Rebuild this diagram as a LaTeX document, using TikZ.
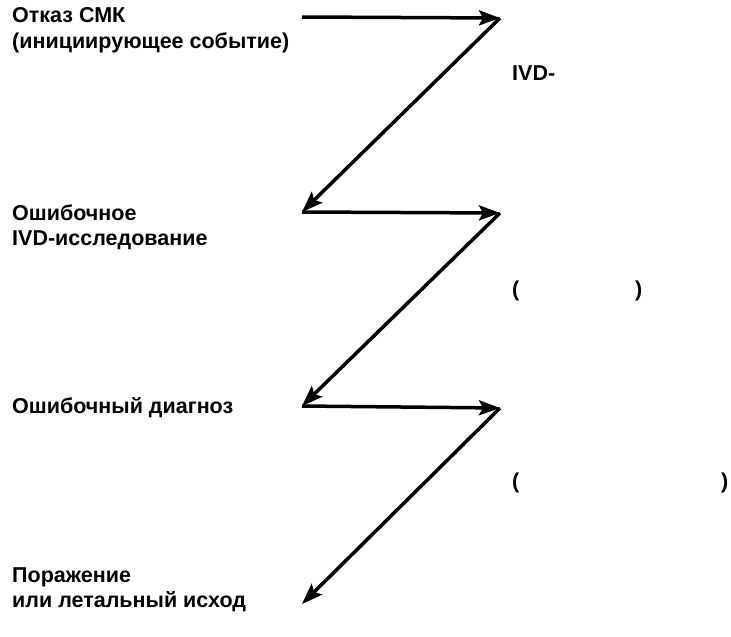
\documentclass[tikz,border=0pt]{standalone}
\usepackage{fontspec}
\setmainfont{Liberation Sans}
\usetikzlibrary{arrows.meta}
\begin{document}
\begin{tikzpicture}[x=1pt,y=-1pt,
  lbl/.style={inner sep=0pt,anchor=base west,align=left,font=\fontsize{21.5}{25}\selectfont\bfseries},
  flow/.style={line width=3.5pt,-{Stealth[length=21pt,width=15pt,inset=4pt]}}]
\useasboundingbox (0,0) rectangle (731,637);
\fill[white] (0,0) rectangle (731,637);
% vertices
\coordinate (a0) at (302,17);
\coordinate (a1) at (500,18);
\coordinate (b0) at (302,212);
\coordinate (b1) at (500,213);
\coordinate (c0) at (302,406);
\coordinate (c1) at (500,408);
\coordinate (d0) at (302,604);
% labels (base = baseline of the last line)
\node[lbl] (t1) at (12,48) {Отказ СМК\\(инициирующее событие)};
\node[lbl] (t2) at (12,245) {Ошибочное\\IVD-исследование};
\node[lbl] (t3) at (12,413) {Ошибочный диагноз};
\node[lbl] (t4) at (12,607) {Поражение\\или летальный исход};
\node[lbl] (ivd) at (512,80) {IVD-};
\node[lbl] (p1) at (512,296) {(};
\node[lbl] (p2) at (635,296) {)};
\node[lbl] (p3) at (512,488) {(};
\node[lbl] (p4) at (721,488) {)};
% arrows
\draw[flow] (a0) -- (a1);
\draw[flow] (a1) -- (b0);
\draw[flow] (b0) -- (b1);
\draw[flow] (b1) -- (c0);
\draw[flow] (c0) -- (c1);
\draw[flow] (c1) -- (d0);
\end{tikzpicture}
\end{document}
